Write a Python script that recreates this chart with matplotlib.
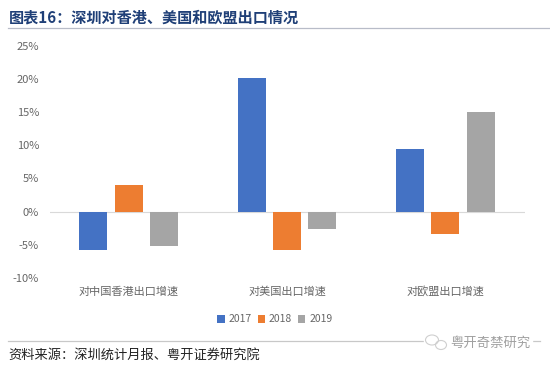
import matplotlib
matplotlib.use('Agg')
import matplotlib.pyplot as plt
from matplotlib.patches import Ellipse
import numpy as np

plt.rcParams['font.family'] = ['Noto Sans CJK SC', 'DejaVu Sans']

categories = ['对中国香港出口增速', '对美国出口增速', '对欧盟出口增速']
years = ['2017', '2018', '2019']
v2017 = [-5.8, 20.2, 9.4]
v2018 = [4.0, -5.8, -3.4]
v2019 = [-5.15, -2.65, 15.0]
colors = ['#4472C4', '#ED7D31', '#A5A5A5']
yticks = [-10, -5, 0, 5, 10, 15, 20, 25]
yticklabels = ['-10%', '-5%', '0%', '5%', '10%', '15%', '20%', '25%']

W, H = 550, 369
fig = plt.figure(figsize=(W/100, H/100), dpi=100, facecolor='white')
ax = fig.add_axes([49.5/W, 1-277.8/H, (524.5-49.5)/W, (277.8-45.8)/H])
x = np.arange(3)
w = 0.177
for i, (vals, c, lab) in enumerate(zip([v2017, v2018, v2019], colors, years)):
    ax.bar(x + (i-1)*0.2225, vals, w, color=c, label=lab)
ax.set_xlim(-0.5, 2.5)
ax.set_ylim(-10, 25)
ax.set_yticks(yticks)
ax.set_yticklabels(yticklabels)
ax.tick_params(axis='y', length=0, labelsize=8, labelcolor='#666666', pad=7.5)
ax.xaxis.set_visible(False)
for s in ['top', 'right', 'bottom', 'left']:
    ax.spines[s].set_visible(False)
ax.axhline(0, color='#D9D9D9', lw=0.8, zorder=0)

for xi, cat in zip(x, categories):
    ax.annotate(cat, (xi, 0), xycoords=('data', 'axes fraction'), xytext=(0, -13.5), textcoords='offset pixels',
                ha='center', va='center', fontsize=8, color='#666666')

fig.legend(loc='center', bbox_to_anchor=(275/W, 1-319.5/H), ncol=3, frameon=False, fontsize=7.5,
           labelcolor='#666666', handlelength=0.7, handleheight=0.7, handletextpad=0.4, columnspacing=0.55)

fig.text(8.5/W, 1-18/H, '图表16：深圳对香港、美国和欧盟出口情况', fontsize=10.9, fontweight='bold',
         color='#1F3F77', va='center', ha='left')
fig.add_artist(plt.Line2D([8/W, 1], [1-27.5/H, 1-27.5/H], color='#B8BCC8', lw=0.9))
fig.add_artist(plt.Line2D([8/W, 540/W], [1-341/H, 1-341/H], color='#C8C8C8', lw=0.9))
fig.text(8/W, 1-355.5/H, '资料来源：深圳统计月报、粤开证券研究院', fontsize=9.5, style='italic',
         color='#222222', va='center', ha='left')

# watermark
fig.add_artist(plt.Rectangle((424/W, 1-352/H), 108/W, 20/H, color='white', transform=fig.transFigure, zorder=2))
for cx, cy, ew, eh in [(432, 340, 13, 10), (441, 345, 11, 9)]:
    fig.add_artist(Ellipse((cx/W, 1-cy/H), ew/W, eh/H, transform=fig.transFigure, fill=False,
                           edgecolor='#CFCFCF', lw=0.8, zorder=3))
fig.text(490/W, 1-343/H, '粤开奇禁研究', fontsize=9.6, color='#A0A0A0', va='center', ha='center', zorder=3)
fig.savefig('out.png', dpi=100, facecolor='white')
